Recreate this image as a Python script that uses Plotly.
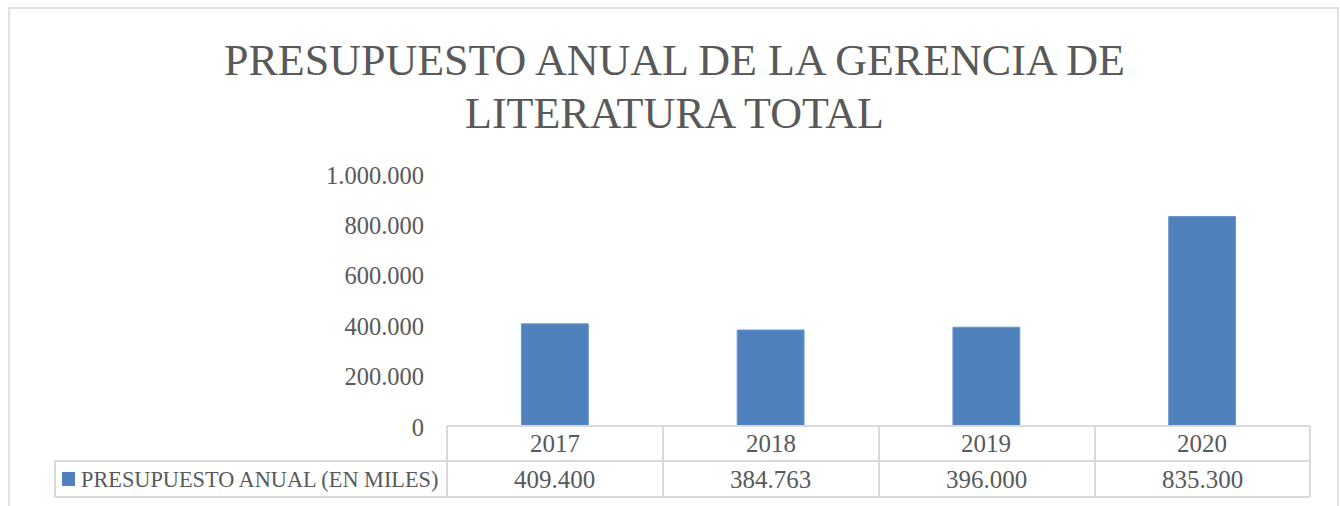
import plotly.graph_objects as go

years = ["2017", "2018", "2019", "2020"]
values = [409400, 384763, 396000, 835300]
series_name = "PRESUPUESTO ANUAL (EN MILES)"
title_lines = ["PRESUPUESTO ANUAL DE LA GERENCIA DE", "LITERATURA TOTAL"]
y_ticks = [0, 200000, 400000, 600000, 800000, 1000000]

W, H = 1340, 506
L, R, T, B = 447, 1310, 175, 427
PW, PH = R - L, B - T


def xp(px):
    return (px - L) / PW


def yp(py):
    return (B - py) / PH


FONT = "Liberation Serif"
TXT = "#595959"
GRID = "#d9d9d9"
BLUE = "#4f81bd"


def fmt(v):
    return f"{v:,}".replace(",", ".")


fig = go.Figure()
fig.add_trace(go.Bar(x=years, y=values, name=series_name,
                     marker=dict(color=BLUE, line=dict(color="#6a96cc", width=1)),
                     width=0.31))

shapes = []
# chart outer border
shapes.append(dict(type="rect", xref="paper", yref="paper",
                   x0=xp(9), x1=xp(1338), y0=yp(515), y1=yp(8),
                   line=dict(color=GRID, width=1.5), fillcolor="rgba(0,0,0,0)", layer="below"))

# data table lines
col_edges = [447, 663, 879, 1095, 1310]
row_y = [426, 461, 497]
lw = 2
shapes.append(dict(type="line", xref="paper", yref="paper", x0=xp(447), x1=xp(1310),
                   y0=yp(426), y1=yp(426), line=dict(color=GRID, width=lw)))
for yy in row_y[1:]:
    shapes.append(dict(type="line", xref="paper", yref="paper", x0=xp(55), x1=xp(1310),
                       y0=yp(yy), y1=yp(yy), line=dict(color=GRID, width=lw)))
for xx in col_edges:
    shapes.append(dict(type="line", xref="paper", yref="paper", x0=xp(xx), x1=xp(xx),
                       y0=yp(426), y1=yp(497), line=dict(color=GRID, width=lw)))
shapes.append(dict(type="line", xref="paper", yref="paper", x0=xp(55), x1=xp(55),
                   y0=yp(461), y1=yp(497), line=dict(color=GRID, width=lw)))
# legend key
shapes.append(dict(type="rect", xref="paper", yref="paper", x0=xp(62), x1=xp(75),
                   y0=yp(486), y1=yp(472), line=dict(width=0), fillcolor=BLUE))

annotations = []
n = len(years)
for i, (yr, v) in enumerate(zip(years, values)):
    cx = (i + 0.5) / n
    annotations.append(dict(x=cx, xref="paper", y=yp(443.5), yref="paper", text=yr,
                            xanchor="center", yanchor="middle",
                            showarrow=False, font=dict(family=FONT, size=25, color=TXT)))
    annotations.append(dict(x=cx, xref="paper", y=yp(479.5), yref="paper", text=fmt(v),
                            xanchor="center", yanchor="middle",
                            showarrow=False, font=dict(family=FONT, size=25, color=TXT)))
annotations.append(dict(x=xp(79), xref="paper", y=yp(479.5), yref="paper", text=series_name,
                        xanchor="left", yanchor="middle", showarrow=False,
                        font=dict(family=FONT, size=22.3, color=TXT)))
annotations.append(dict(x=xp(674), xref="paper", y=yp(60), yref="paper", text=title_lines[0],
                        xanchor="center", yanchor="middle",
                        showarrow=False, font=dict(family=FONT, size=44, color=TXT)))
annotations.append(dict(x=xp(674), xref="paper", y=yp(113), yref="paper", text=title_lines[1],
                        xanchor="center", yanchor="middle",
                        showarrow=False, font=dict(family=FONT, size=44, color=TXT)))

fig.update_layout(
    width=W, height=H,
    margin=dict(l=L, r=W - R, t=T, b=H - B, pad=0),
    paper_bgcolor="white", plot_bgcolor="white",
    separators=",.",
    showlegend=False,
    shapes=shapes,
    annotations=annotations,
    xaxis=dict(type="category", range=[-0.5, n - 0.5], showticklabels=False,
               showgrid=False, zeroline=False, showline=False, ticks=""),
    yaxis=dict(range=[0, 1000000], tickvals=y_ticks, tickformat=",d",
               showgrid=False, zeroline=False, showline=False, ticks="",
               ticklabelstandoff=22,
               tickfont=dict(family=FONT, size=24.5, color=TXT)),
)

fig.write_html("out.html", config={"displayModeBar": False},
               post_script="document.body.style.margin='0';document.body.style.overflow='hidden';")
